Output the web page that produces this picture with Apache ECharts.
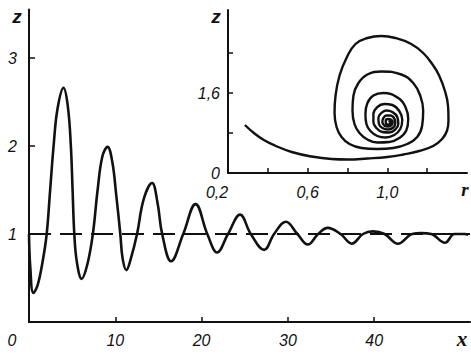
<!DOCTYPE html>
<html>
<head>
<meta charset="utf-8">
<script src="https://cdn.jsdelivr.net/npm/echarts@6/dist/echarts.min.js"></script>
<style>
html,body{margin:0;padding:0;background:#fff;}
#c{width:471px;height:355px;}
</style>
</head>
<body>
<div id="c"></div>
<script>
// ---- main plot: z versus x ----
var mainX = [0, 0.15, 0.5, 1.0, 1.6, 2.05, 2.45, 2.85, 3.3, 4.0, 4.5, 4.85, 5.05, 5.25, 5.55, 6.1, 6.75, 7.4, 7.95, 8.5, 9.1, 9.65, 10.1, 10.58, 10.85, 11.28, 11.8, 12.52, 13.3, 14.26, 14.9, 15.43, 16.47, 17.87, 19.3, 20.66, 21.8, 23.06, 24.46, 25.7, 27.25, 28.4, 29.77, 31.1, 32.3, 33.5, 34.6, 36.1, 37.4, 38.7, 39.85, 41.2, 42.75, 44.4, 45.47, 46.6, 48.2, 49.3, 50.5, 50.9];
var mainZ = [1.0, 0.62, 0.33, 0.42, 0.7, 1.0, 1.5, 2.0, 2.42, 2.66, 2.45, 2.0, 1.5, 1.0, 0.68, 0.49, 0.65, 1.0, 1.5, 1.88, 1.99, 1.82, 1.45, 1.0, 0.72, 0.59, 0.72, 1.0, 1.4, 1.58, 1.35, 1.0, 0.69, 1.0, 1.34, 1.0, 0.79, 1.0, 1.22, 1.0, 0.82, 1.0, 1.14, 1.0, 0.88, 1.0, 1.07, 1.0, 0.89, 1.0, 1.03, 1.0, 0.89, 1.0, 1.01, 1.0, 0.9, 1.0, 1.0, 0.99];
var levelX = [0, 51.1];
var levelZ = [1, 1];
var mainXTicks = [10, 20, 30, 40];
var mainXLabels = [0, 10, 20, 30, 40];
var mainZTicks = [1, 2, 3];
var mainZLabels = [1, 2, 3];

// ---- inset: phase portrait z versus r ----
var spiralR = [0.285, 0.33, 0.38, 0.435, 0.52, 0.62, 0.72, 0.80, 0.90, 1.00, 1.08, 1.16, 1.23, 1.275, 1.30, 1.307, 1.305, 1.29, 1.26, 1.227, 1.18, 1.12, 1.04, 0.97, 0.90, 0.84, 0.795, 0.76, 0.74, 0.735, 0.745, 0.77, 0.81, 0.87, 0.95, 1.03, 1.10, 1.15, 1.175, 1.18, 1.165, 1.13, 1.07, 0.97, 0.90, 0.855, 0.83, 0.825, 0.835, 0.86, 0.90, 0.95, 1.01, 1.06, 1.095, 1.105, 1.09, 1.055, 0.98, 0.93, 0.90, 0.89, 0.895, 0.915, 0.95, 0.99, 1.035, 1.065, 1.075, 1.06, 1.025, 0.985, 0.95, 0.93, 0.93, 0.945, 0.975, 1.01, 1.04, 1.055, 1.05, 1.025, 0.995, 0.97, 0.955, 0.958, 0.975, 1.005, 1.03, 1.04, 1.035, 1.015, 0.995, 0.98, 0.975, 0.985, 1.005, 1.022, 1.027, 1.018, 1.003, 0.992, 0.993, 1.005, 1.015, 1.014, 1.005];
var spiralZ = [0.96, 0.80, 0.66, 0.55, 0.42, 0.33, 0.28, 0.27, 0.29, 0.32, 0.37, 0.44, 0.54, 0.68, 0.85, 1.05, 1.33, 1.63, 1.95, 2.17, 2.40, 2.58, 2.70, 2.74, 2.70, 2.58, 2.30, 1.95, 1.55, 1.20, 0.92, 0.72, 0.58, 0.50, 0.48, 0.50, 0.58, 0.72, 0.95, 1.25, 1.55, 1.80, 1.97, 2.03, 1.97, 1.80, 1.55, 1.25, 0.98, 0.80, 0.67, 0.61, 0.62, 0.70, 0.85, 1.08, 1.33, 1.50, 1.60, 1.55, 1.40, 1.18, 0.98, 0.84, 0.74, 0.71, 0.76, 0.88, 1.06, 1.24, 1.36, 1.38, 1.32, 1.18, 1.02, 0.90, 0.82, 0.81, 0.87, 0.98, 1.12, 1.22, 1.25, 1.20, 1.10, 0.98, 0.90, 0.87, 0.91, 1.00, 1.09, 1.15, 1.15, 1.10, 1.02, 0.95, 0.93, 0.96, 1.02, 1.07, 1.08, 1.04, 0.99, 0.97, 0.99, 1.03, 1.04];
var insetRTicks = [0.4, 0.6, 0.8, 1.0, 1.2];
var insetRLabels = [0.2, 0.6, 1.0];
var insetZTicks = [0.8, 1.6, 2.4];
var insetZLabels = [0, 1.6];

function zip(a, b) { return a.map(function (v, i) { return [v, b[i]]; }); }
function comma(v) { return (Math.round(v * 10) / 10).toFixed(1).replace('.', ','); }

var INK = '#111';
var numFont = { color: INK, fontFamily: 'Liberation Sans', fontStyle: 'italic', fontSize: 16 };

var chart = echarts.init(document.getElementById('c'), null, { renderer: 'svg' });
chart.setOption({
  animation: false,
  backgroundColor: '#fff',
  grid: [
    { left: 29, right: 1, top: 9.6, bottom: 33 },
    { left: 228, right: 4, top: 10, bottom: 182 }
  ],
  xAxis: [
    {
      gridIndex: 0, type: 'value', min: 0, max: 51.1,
      axisLine: { show: true, onZero: false, lineStyle: { color: INK, width: 2 } },
      axisTick: { show: true, inside: true, length: 5, customValues: mainXTicks, lineStyle: { color: INK, width: 1.5 } },
      axisLabel: Object.assign({
        customValues: mainXLabels, margin: 10,
        formatter: function (v) { return v === 0 ? '{o|0}' : String(v); },
        rich: { o: Object.assign({ padding: [0, 34, 0, 0] }, numFont) }
      }, numFont),
      splitLine: { show: false }
    },
    {
      gridIndex: 1, type: 'value', min: 0.2, max: 1.4,
      axisLine: { show: true, onZero: false, lineStyle: { color: INK, width: 2 } },
      axisTick: { show: true, inside: true, length: 5, customValues: insetRTicks, lineStyle: { color: INK, width: 1.5 } },
      axisLabel: Object.assign({
        customValues: insetRLabels, margin: 11,
        formatter: function (v) { return Math.abs(v - 0.2) < 1e-6 ? '{o|' + comma(v) + '}' : comma(v); },
        rich: { o: Object.assign({ padding: [0, 22, 0, 0] }, numFont) }
      }, numFont),
      splitLine: { show: false }
    }
  ],
  yAxis: [
    {
      gridIndex: 0, type: 'value', min: 0, max: 3.55,
      axisLine: { show: true, onZero: false, lineStyle: { color: INK, width: 2 } },
      axisTick: { show: true, inside: true, length: 6, customValues: mainZTicks, lineStyle: { color: INK, width: 1.5 } },
      axisLabel: Object.assign({ customValues: mainZLabels, margin: 12 }, numFont),
      splitLine: { show: false }
    },
    {
      gridIndex: 1, type: 'value', min: 0, max: 3.26,
      axisLine: { show: true, onZero: false, lineStyle: { color: INK, width: 2 } },
      axisTick: { show: true, inside: true, length: 5, customValues: insetZTicks, lineStyle: { color: INK, width: 1.5 } },
      axisLabel: Object.assign({ customValues: insetZLabels, margin: 8, formatter: function (v) { return v === 0 ? '0' : comma(v); } }, numFont),
      splitLine: { show: false }
    }
  ],
  series: [
    {
      type: 'line', xAxisIndex: 0, yAxisIndex: 0, data: zip(levelX, levelZ),
      showSymbol: false, silent: true,
      lineStyle: { color: INK, width: 1.8, type: [22, 9] }
    },
    {
      type: 'line', xAxisIndex: 0, yAxisIndex: 0, data: zip(mainX, mainZ),
      showSymbol: false, smooth: 0.4,
      lineStyle: { color: INK, width: 2.6 }
    },
    {
      type: 'line', xAxisIndex: 1, yAxisIndex: 1, data: zip(spiralR, spiralZ),
      showSymbol: false, smooth: 0.45,
      lineStyle: { color: INK, width: 2.4 }
    }
  ],
  graphic: [
    { type: 'text', x: 17, y: 16, style: { text: 'z', fill: INK, font: 'italic bold 19px "Liberation Sans"', align: 'center', verticalAlign: 'middle' } },
    { type: 'text', x: 462, y: 339, style: { text: 'x', fill: INK, font: 'italic bold 21px "Liberation Serif"', align: 'center', verticalAlign: 'middle' } },
    { type: 'text', x: 216, y: 16, style: { text: 'z', fill: INK, font: 'italic bold 19px "Liberation Sans"', align: 'center', verticalAlign: 'middle' } },
    { type: 'text', x: 465, y: 189, style: { text: 'r', fill: INK, font: 'italic bold 19px "Liberation Serif"', align: 'center', verticalAlign: 'middle' } }
  ]
});
</script>
</body>
</html>
